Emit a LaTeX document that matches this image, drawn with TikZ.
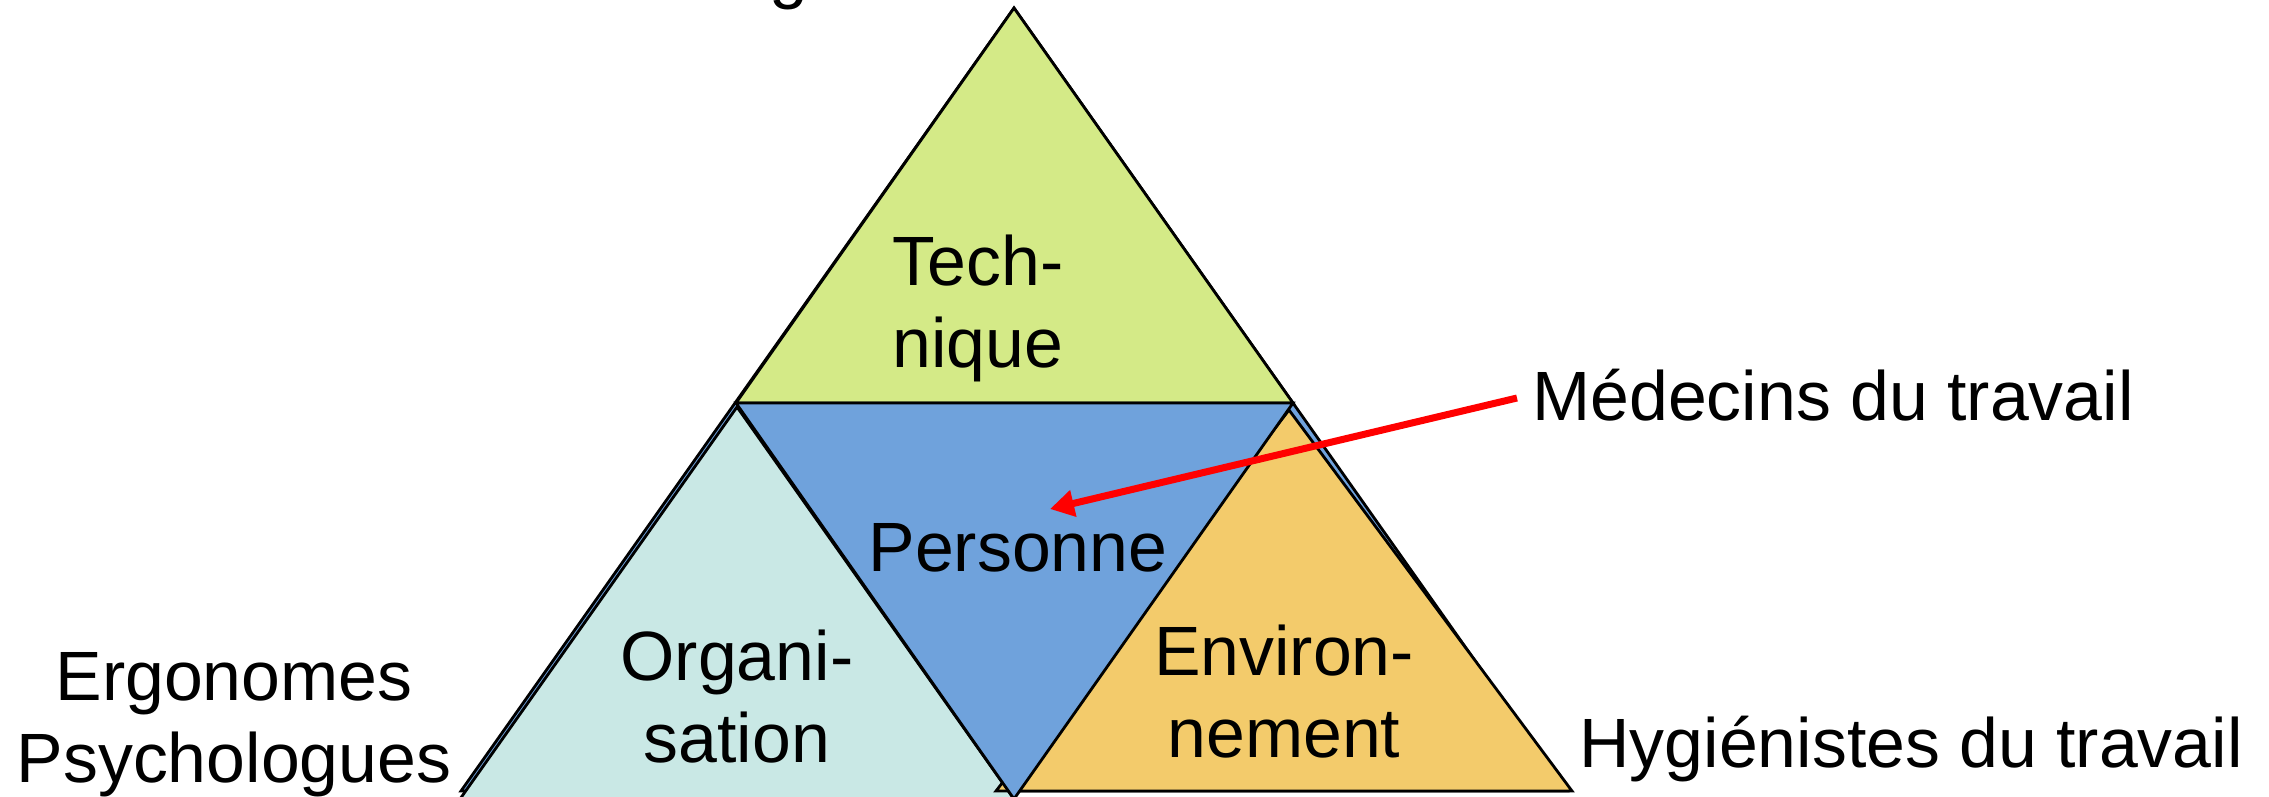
\documentclass[tikz,border=0pt]{standalone}
\usepackage{fontspec}
\setmainfont{Liberation Sans}
\usetikzlibrary{arrows.meta}
\definecolor{cgreen}{RGB}{212,234,135}
\definecolor{cblue}{RGB}{111,162,220}
\definecolor{ccyan}{RGB}{201,232,229}
\definecolor{corange}{RGB}{243,203,107}
\begin{document}
\begin{tikzpicture}[x=0.5pt,y=-0.5pt,
  tri/.style={draw=black,line width=1.4pt,line join=miter},
  lbl/.style={inner sep=0pt,align=center,font=\fontsize{34.9pt}{41pt}\selectfont},
  redarrow/.style={draw=red,line width=3.5pt,-{Triangle[length=12pt,width=13pt]}}]
\useasboundingbox (0,0) rectangle (2269,797);
\clip (0,0) rectangle (2269,797);
% background big triangle
\path[tri,fill=cblue] (1014,8) -- (461,791) -- (1567,791) -- cycle;
% technique
\path[tri,fill=cgreen] (1014,8) -- (736,403) -- (1293,403) -- cycle;
% organisation
\path[tri,fill=ccyan] (737,407) -- (318,1000) -- (1156,1000) -- cycle;
% environnement
\path[tri,fill=corange] (1289,410) -- (996,791) -- (1572,791) -- cycle;
% personne
\path[tri,fill=cblue] (736,403) -- (1293,403) -- (1014,799) -- cycle;
% labels
\node[lbl,anchor=base west] (ing) at (711,-4) {Ingénieurs};
\node[lbl,anchor=base] (tech) at (978,367) {Tech-\\nique};
\node[lbl,anchor=base] (pers) at (1018,571) {Personne};
\node[lbl,anchor=base] (org) at (737,762) {Organi-\\sation};
\node[lbl,anchor=base] (env) at (1284,757) {Environ-\\nement};
\node[lbl,anchor=base] (ergo) at (234,782) {Ergonomes\\Psychologues};
\node[lbl,anchor=base west] (med) at (1532,420) {Médecins du travail};
\node[lbl,anchor=base west] (hyg) at (1579,767) {Hygiénistes du travail};
% arrow
\coordinate (aS) at (1517,398);
\coordinate (aE) at (1050,509);
\draw[redarrow] (aS) -- (aE);
\end{tikzpicture}
\end{document}
